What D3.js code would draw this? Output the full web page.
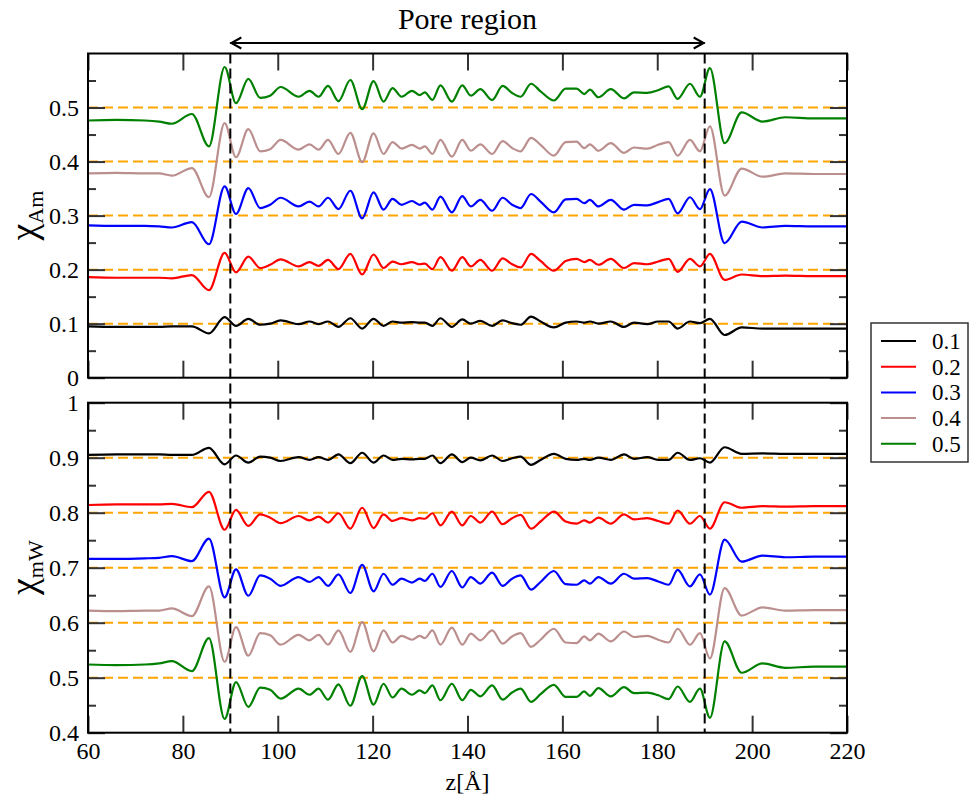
<!DOCTYPE html>
<html>
<head>
<meta charset="utf-8">
<script src="https://cdn.jsdelivr.net/npm/d3@7"></script>
<style>
  body { margin: 0; background: #fff; }
  svg { display: block; }
  svg text { font-family: "Liberation Serif", "Times New Roman", Tinos, "Noto Serif", "DejaVu Serif", FreeSerif, Times, serif !important; fill: #000; }
</style>
</head>
<body>
<svg id="chart" width="973" height="799"></svg>
<script>
// z positions (Å) shared by every profile
const zGrid = [
  60, 66, 72, 75, 77.7, 81.9, 85.5, 88.8, 91.2, 93.8,
  96.3, 98.4, 100.6, 104.4, 106.7, 108.6, 110.6, 112.8, 115.3, 117.8,
  120.2, 122.3, 124.2, 126.1, 128.3, 129.9, 131.0, 132.6, 134.3, 136.7,
  138.9, 140.7, 142.7, 145.2, 147.4, 149.4, 151.2, 153.4, 155.4, 158.2,
  160.7, 163.0, 164.6, 165.8, 167.6, 170.2, 173.0, 175.1, 177.9, 180.2,
  182.4, 184.3, 186.9, 189.0, 191.1, 194.2, 197.8, 202.2, 207, 213,
  220
];

// legend labels (bulk amphiphile fraction)
const seriesLabels = ["0.1", "0.2", "0.3", "0.4", "0.5"];

// chi_Am profiles
const am01 = [0.095, 0.094, 0.094, 0.094, 0.095, 0.095, 0.082, 0.112, 0.096, 0.109,
  0.098, 0.100, 0.106, 0.099, 0.104, 0.099, 0.104, 0.094, 0.110, 0.091,
  0.109, 0.096, 0.104, 0.102, 0.103, 0.102, 0.102, 0.096, 0.110, 0.094,
  0.108, 0.100, 0.105, 0.096, 0.106, 0.101, 0.098, 0.113, 0.104, 0.093,
  0.102, 0.104, 0.102, 0.104, 0.100, 0.104, 0.094, 0.102, 0.099, 0.104,
  0.104, 0.091, 0.104, 0.101, 0.109, 0.079, 0.093, 0.091, 0.091, 0.091,
  0.091];
const am02 = [0.186, 0.185, 0.185, 0.185, 0.184, 0.190, 0.162, 0.231, 0.195, 0.224,
  0.203, 0.209, 0.219, 0.206, 0.214, 0.207, 0.218, 0.201, 0.229, 0.191,
  0.228, 0.203, 0.215, 0.210, 0.214, 0.210, 0.211, 0.201, 0.223, 0.198,
  0.223, 0.206, 0.218, 0.198, 0.221, 0.210, 0.204, 0.229, 0.216, 0.198,
  0.216, 0.220, 0.214, 0.218, 0.209, 0.220, 0.203, 0.212, 0.210, 0.215,
  0.220, 0.196, 0.220, 0.206, 0.229, 0.181, 0.191, 0.188, 0.189, 0.188,
  0.188];
const am03 = [0.282, 0.281, 0.281, 0.280, 0.278, 0.288, 0.247, 0.354, 0.303, 0.351,
  0.314, 0.320, 0.333, 0.317, 0.326, 0.317, 0.333, 0.312, 0.346, 0.295,
  0.343, 0.311, 0.331, 0.320, 0.327, 0.320, 0.324, 0.311, 0.335, 0.306,
  0.336, 0.317, 0.329, 0.309, 0.333, 0.320, 0.314, 0.340, 0.326, 0.306,
  0.330, 0.331, 0.323, 0.329, 0.317, 0.329, 0.311, 0.320, 0.319, 0.325,
  0.331, 0.304, 0.334, 0.312, 0.349, 0.249, 0.289, 0.278, 0.281, 0.280,
  0.280];
const am04 = [0.378, 0.379, 0.378, 0.378, 0.374, 0.388, 0.334, 0.471, 0.408, 0.460,
  0.419, 0.423, 0.440, 0.422, 0.432, 0.422, 0.440, 0.414, 0.453, 0.399,
  0.452, 0.414, 0.436, 0.424, 0.431, 0.424, 0.428, 0.414, 0.440, 0.409,
  0.440, 0.420, 0.432, 0.414, 0.438, 0.425, 0.419, 0.444, 0.431, 0.411,
  0.436, 0.437, 0.425, 0.432, 0.420, 0.434, 0.416, 0.426, 0.424, 0.431,
  0.436, 0.411, 0.440, 0.419, 0.465, 0.337, 0.387, 0.372, 0.378, 0.377,
  0.377];
const am05 = [0.476, 0.477, 0.476, 0.474, 0.470, 0.488, 0.428, 0.575, 0.508, 0.553,
  0.518, 0.522, 0.538, 0.520, 0.531, 0.520, 0.540, 0.512, 0.551, 0.497,
  0.549, 0.511, 0.536, 0.520, 0.531, 0.523, 0.528, 0.514, 0.541, 0.511,
  0.541, 0.522, 0.534, 0.514, 0.540, 0.527, 0.520, 0.544, 0.530, 0.513,
  0.535, 0.535, 0.525, 0.533, 0.519, 0.534, 0.517, 0.528, 0.527, 0.532,
  0.539, 0.516, 0.544, 0.520, 0.573, 0.434, 0.491, 0.474, 0.482, 0.480,
  0.480];

// chi_mW profiles
const mw01 = [0.905, 0.906, 0.906, 0.906, 0.905, 0.905, 0.918, 0.888, 0.904, 0.891,
  0.902, 0.900, 0.894, 0.901, 0.896, 0.901, 0.896, 0.906, 0.890, 0.909,
  0.891, 0.904, 0.896, 0.898, 0.897, 0.898, 0.898, 0.904, 0.890, 0.906,
  0.892, 0.900, 0.895, 0.904, 0.894, 0.899, 0.902, 0.887, 0.896, 0.907,
  0.898, 0.896, 0.898, 0.896, 0.900, 0.896, 0.906, 0.898, 0.901, 0.896,
  0.896, 0.909, 0.896, 0.899, 0.891, 0.919, 0.907, 0.908, 0.907, 0.907,
  0.907];
const mw02 = [0.814, 0.815, 0.815, 0.815, 0.816, 0.810, 0.838, 0.769, 0.805, 0.776,
  0.797, 0.791, 0.781, 0.794, 0.786, 0.793, 0.782, 0.799, 0.771, 0.809,
  0.772, 0.797, 0.785, 0.790, 0.786, 0.790, 0.789, 0.799, 0.777, 0.802,
  0.777, 0.794, 0.782, 0.802, 0.779, 0.790, 0.796, 0.771, 0.784, 0.802,
  0.784, 0.780, 0.786, 0.782, 0.791, 0.780, 0.797, 0.788, 0.790, 0.785,
  0.780, 0.804, 0.780, 0.794, 0.771, 0.819, 0.809, 0.812, 0.811, 0.812,
  0.812];
const mw03 = [0.716, 0.716, 0.717, 0.718, 0.721, 0.712, 0.753, 0.646, 0.697, 0.649,
  0.686, 0.680, 0.667, 0.683, 0.674, 0.683, 0.667, 0.688, 0.654, 0.705,
  0.657, 0.689, 0.669, 0.680, 0.673, 0.680, 0.676, 0.689, 0.665, 0.694,
  0.664, 0.683, 0.671, 0.691, 0.667, 0.680, 0.686, 0.660, 0.674, 0.694,
  0.670, 0.669, 0.677, 0.671, 0.683, 0.671, 0.689, 0.680, 0.681, 0.675,
  0.669, 0.696, 0.666, 0.688, 0.651, 0.751, 0.711, 0.722, 0.719, 0.720,
  0.720];
const mw04 = [0.622, 0.621, 0.622, 0.622, 0.626, 0.612, 0.666, 0.529, 0.592, 0.540,
  0.581, 0.577, 0.560, 0.578, 0.568, 0.578, 0.560, 0.586, 0.547, 0.601,
  0.548, 0.586, 0.564, 0.576, 0.569, 0.576, 0.572, 0.586, 0.560, 0.591,
  0.560, 0.580, 0.568, 0.586, 0.562, 0.575, 0.581, 0.556, 0.569, 0.589,
  0.564, 0.563, 0.575, 0.568, 0.580, 0.566, 0.584, 0.574, 0.576, 0.569,
  0.564, 0.589, 0.560, 0.581, 0.535, 0.663, 0.613, 0.628, 0.622, 0.623,
  0.623];
const mw05 = [0.524, 0.523, 0.524, 0.526, 0.530, 0.512, 0.572, 0.425, 0.492, 0.447,
  0.482, 0.478, 0.462, 0.480, 0.469, 0.480, 0.460, 0.488, 0.449, 0.503,
  0.451, 0.489, 0.464, 0.480, 0.469, 0.477, 0.472, 0.486, 0.459, 0.489,
  0.459, 0.478, 0.466, 0.486, 0.460, 0.473, 0.480, 0.456, 0.470, 0.487,
  0.465, 0.465, 0.475, 0.467, 0.481, 0.466, 0.483, 0.472, 0.473, 0.468,
  0.461, 0.484, 0.456, 0.480, 0.427, 0.566, 0.509, 0.526, 0.518, 0.520,
  0.520];

// reference levels and axis ticks
const refTop = [0.1, 0.2, 0.3, 0.4, 0.5];
const refBottom = [0.5, 0.6, 0.7, 0.8, 0.9];
const xTicks = [60, 80, 100, 120, 140, 160, 180, 200, 220];
const yTicksTop = [0, 0.1, 0.2, 0.3, 0.4, 0.5];
const yMinorTop = [0.05, 0.15, 0.25, 0.35, 0.45, 0.55];
const yTicksBottom = [0.4, 0.5, 0.6, 0.7, 0.8, 0.9, 1];
const yMinorBottom = [0.45, 0.55, 0.65, 0.75, 0.85, 0.95];
const poreBounds = [90, 190];

const colors = ["#000000", "#ff0000", "#0000ff", "#bc8f8f", "#008000"];
const serif = '"Liberation Serif", "Times New Roman", Tinos, "Noto Serif", "DejaVu Serif", FreeSerif, Times, serif';

const svg = d3.select("#chart");
const left = 88, right = 847;
const x = d3.scaleLinear().domain([60, 220]).range([left, right]);

const panels = [
  { y: d3.scaleLinear().domain([0, 0.6]).range([377.7, 53.5]),
    series: [am01, am02, am03, am04, am05], refs: refTop,
    ticks: yTicksTop, minor: yMinorTop, xLabels: false,
    title: ["χ", "Am"] },
  { y: d3.scaleLinear().domain([0.4, 1]).range([732.7, 402.7]),
    series: [mw01, mw02, mw03, mw04, mw05], refs: refBottom,
    ticks: yTicksBottom, minor: yMinorBottom, xLabels: true,
    title: ["χ", "mW"] }
];

const fmt = d => String(+d.toFixed(1));
const tickColor = "#333";

panels.forEach(p => {
  const g = svg.append("g");
  const [yb, yt] = p.y.range();

  // horizontal reference levels
  g.selectAll("line.ref").data(p.refs).join("line")
    .attr("x1", left).attr("x2", right)
    .attr("y1", d => p.y(d)).attr("y2", d => p.y(d))
    .attr("stroke", "#ffa500").attr("stroke-width", 2)
    .attr("stroke-dasharray", "10,5");

  // axes with inward ticks
  const ax = (gen, tx, ty) => {
    const a = g.append("g").attr("transform", `translate(${tx},${ty})`).call(gen);
    a.attr("font-family", serif).attr("font-size", 24);
    a.select(".domain").remove();
    a.selectAll(".tick line").attr("stroke", tickColor).attr("stroke-width", 2);
    a.selectAll("text").attr("fill", "#000");
    return a;
  };
  ax(d3.axisLeft(p.y).tickValues(p.ticks).tickSize(-17).tickPadding(9).tickFormat(fmt), left, 0);
  ax(d3.axisLeft(p.y).tickValues(p.minor).tickSize(-8).tickFormat(""), left, 0);
  ax(d3.axisRight(p.y).tickValues(p.ticks).tickSize(-17).tickFormat(""), right, 0);
  ax(d3.axisRight(p.y).tickValues(p.minor).tickSize(-8).tickFormat(""), right, 0);
  ax(d3.axisTop(x).tickValues(xTicks).tickSize(-17).tickFormat(""), 0, yt);
  const bx = ax(d3.axisBottom(x).tickValues(xTicks).tickSize(-17).tickPadding(8)
    .tickFormat(p.xLabels ? d3.format("d") : ""), 0, yb);
  bx.selectAll("text").attr("dy", "0.78em");

  // profiles
  const line = d3.line().x((d, i) => x(zGrid[i])).y(d => p.y(d)).curve(d3.curveMonotoneX);
  g.selectAll("path.prof").data(p.series).join("path")
    .attr("class", "prof")
    .attr("d", line)
    .attr("fill", "none")
    .attr("stroke", (d, i) => colors[i])
    .attr("stroke-width", 2.2)
    .attr("stroke-linejoin", "round");

  // frame
  g.append("rect").attr("x", left).attr("y", yt)
    .attr("width", right - left).attr("height", yb - yt)
    .attr("fill", "none").attr("stroke", "#000").attr("stroke-width", 2);

  // axis title
  const cy = (yb + yt) / 2;
  const t = g.append("text")
    .attr("transform", `translate(36,${cy}) rotate(-90)`)
    .attr("text-anchor", "middle");
  t.append("tspan").attr("font-size", 38).text(p.title[0]);
  t.append("tspan").attr("font-size", 22).attr("dy", 7).text(p.title[1]);
});

// pore boundaries
svg.selectAll("line.pore").data(poreBounds).join("line")
  .attr("x1", d => x(d)).attr("x2", d => x(d))
  .attr("y1", 53.5).attr("y2", 732.7)
  .attr("stroke", "#000").attr("stroke-width", 2)
  .attr("stroke-dasharray", "10,5");

// pore region arrow and label
const ay = 43, x0 = x(poreBounds[0]), x1 = x(poreBounds[1]);
svg.append("line").attr("x1", x0).attr("x2", x1).attr("y1", ay).attr("y2", ay)
  .attr("stroke", "#000").attr("stroke-width", 2);
svg.append("path").attr("d", `M${x0 + 11},${ay - 5.5}L${x0 + 1},${ay}L${x0 + 11},${ay + 5.5}`)
  .attr("fill", "none").attr("stroke", "#000").attr("stroke-width", 2);
svg.append("path").attr("d", `M${x1 - 11},${ay - 5.5}L${x1 - 1},${ay}L${x1 - 11},${ay + 5.5}`)
  .attr("fill", "none").attr("stroke", "#000").attr("stroke-width", 2);
svg.append("text").attr("x", (x0 + x1) / 2).attr("y", 29)
  .attr("text-anchor", "middle").attr("font-size", 30).text("Pore region");

// x axis title
svg.append("text").attr("x", (left + right) / 2).attr("y", 790)
  .attr("text-anchor", "middle").attr("font-size", 24).text("z[Å]");

// legend
const lg = svg.append("g");
lg.append("rect").attr("x", 871).attr("y", 323).attr("width", 97).attr("height", 139)
  .attr("fill", "#fff").attr("stroke", "#333").attr("stroke-width", 1.5);
seriesLabels.forEach((lab, i) => {
  const yy = 341 + i * 25.7;
  lg.append("line").attr("x1", 881).attr("x2", 916).attr("y1", yy).attr("y2", yy)
    .attr("stroke", colors[i]).attr("stroke-width", 2);
  lg.append("text").attr("x", 932).attr("y", yy + 8).attr("font-size", 23).text(lab);
});
</script>
</body>
</html>
